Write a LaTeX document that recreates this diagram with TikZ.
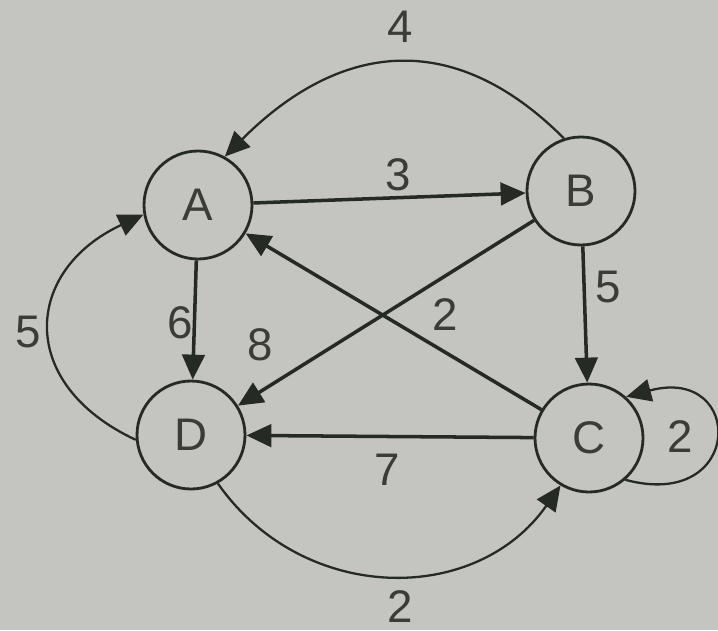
\documentclass[tikz,border=0pt]{standalone}
\usepackage{fontspec}
\setmainfont{Liberation Sans}
\usetikzlibrary{arrows.meta}
\definecolor{paper}{RGB}{196,197,192}
\definecolor{ink}{RGB}{38,42,36}
\definecolor{txt}{RGB}{58,60,56}
\tikzset{
  vertex/.style={circle, draw=ink, line width=1.6pt, minimum size=2.16cm, inner sep=0pt, text=txt, font=\fontsize{26}{30}\selectfont},
  edge/.style={draw=ink, line width=2pt, -{Triangle[length=0.5cm, width=0.45cm]}},
  curve/.style={edge, line width=1.3pt},
  wt/.style={text=txt, inner sep=1pt, font=\fontsize{26}{30}\selectfont}
}
\begin{document}
\begin{tikzpicture}
    % Paper
    \fill[paper] (0,0) rectangle (14.36,12.6);
    \useasboundingbox (0,0) rectangle (14.36,12.6);

    % Vertices
    \node[vertex] (A) at (3.96, 8.50) {A};
    \node[vertex] (B) at (11.62, 8.78) {B};
    \node[vertex] (C) at (11.78, 3.84) {C};
    \node[vertex] (D) at (3.82, 3.90) {D};

    % Straight edges
    \draw[edge] (A) -- (B);
    \draw[edge] (A) -- (D);
    \draw[edge] (B) -- (D);
    \draw[edge] (B) -- (C);
    \draw[edge] (C) -- (A);
    \draw[edge] (C) -- (D);

    % Curved edges
    \draw[curve] (B.108) to[out=135, in=45, looseness=1.2] (A.61);
    \draw[curve] (D.185) to[out=155, in=205, looseness=1.5] (A.190);
    \draw[curve] (D.299) to[out=-55, in=235, looseness=1.1] (C.239);
    \draw[curve] (C.-49) to[out=-15, in=15, looseness=3.8] (C.48);

    % Weights
    \node[wt] (wAB) at (7.96, 9.10) {3};
    \node[wt] (wBA) at (8.00, 12.06) {4};
    \node[wt] (wAD) at (3.60, 6.14) {6};
    \node[wt] (wBD) at (5.20, 5.70) {8};
    \node[wt] (wCA) at (8.90, 6.30) {2};
    \node[wt] (wBC) at (12.16, 6.86) {5};
    \node[wt] (wCD) at (7.74, 3.20) {7};
    \node[wt] (wDA) at (0.56, 5.96) {5};
    \node[wt] (wDC) at (8.00, 0.46) {2};
    \node[wt] (wCC) at (13.60, 3.86) {2};
\end{tikzpicture}
\end{document}
